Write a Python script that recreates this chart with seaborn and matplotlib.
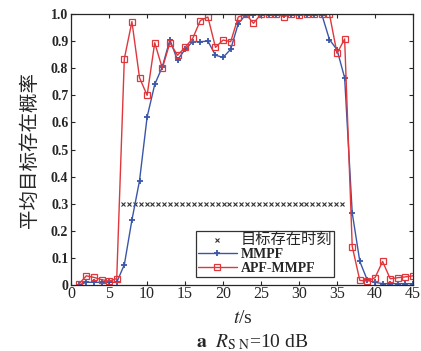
import numpy as np
import pandas as pd
import matplotlib
matplotlib.use("Agg")
import matplotlib.pyplot as plt
import seaborn as sns

# data
t = list(range(1, 46))
mmpf = [0.0, 0.01, 0.01, 0.01, 0.01, 0.01, 0.075, 0.24, 0.385, 0.62,
        0.74, 0.805, 0.905, 0.83, 0.87, 0.898, 0.898, 0.90, 0.848, 0.84,
        0.87, 0.965, 0.998, 0.998, 0.998, 0.998, 0.998, 0.998, 0.998, 0.998,
        0.998, 0.998, 0.998, 0.906, 0.868, 0.765, 0.266, 0.087, 0.017, 0.01,
        0.005, 0.005, 0.005, 0.005, 0.005]
apf = [0.003, 0.034, 0.028, 0.02, 0.014, 0.024, 0.835, 0.972, 0.765, 0.70,
       0.894, 0.80, 0.894, 0.848, 0.877, 0.91, 0.976, 0.989, 0.877, 0.904,
       0.898, 0.989, 1.0, 0.966, 1.0, 1.0, 1.0, 0.99, 1.0, 0.995,
       1.0, 1.0, 1.0, 1.0, 0.855, 0.908, 0.142, 0.017, 0.015, 0.027,
       0.087, 0.023, 0.027, 0.03, 0.034]
exist_t = np.arange(6.8, 36.05, 0.78)
exist_p = [0.3] * len(exist_t)

df = pd.DataFrame({"t": t, "MMPF": mmpf, "APF-MMPF": apf})

sns.set_style("ticks")
plt.rcParams["font.family"] = ["Liberation Serif", "Noto Sans CJK SC"]
plt.rcParams["mathtext.fontset"] = "stix"

fig = plt.figure(figsize=(4.21, 3.51), dpi=100)
ax = fig.add_axes([0.169, 0.188, 0.812, 0.772])

ax.plot(exist_t, exist_p, linestyle="none", marker="x", markersize=2.5,
        markeredgewidth=0.8, color="#333333", label="目标存在时刻")
sns.lineplot(data=df, x="t", y="MMPF", ax=ax, color="#3a56a8", linewidth=1.0,
             marker="+", markersize=4.5, markeredgewidth=1.3,
             markeredgecolor="#3a56a8", label="MMPF")
sns.lineplot(data=df, x="t", y="APF-MMPF", ax=ax, color="#e0373c", linewidth=1.0,
             marker="s", markersize=5, markerfacecolor="none",
             markeredgecolor="#e0373c", markeredgewidth=0.9, label="APF-MMPF")

ax.set_xlim(0, 45)
ax.set_ylim(0, 1.0)
ax.set_xticks(range(0, 46, 5))
ax.set_yticks([i / 10 for i in range(11)])
ax.set_yticklabels(["0"] + [f"{i / 10:.1f}" for i in range(1, 11)],
                   fontsize=10, fontweight="bold")
ax.tick_params(axis="x", labelsize=11.5, pad=1)
ax.tick_params(axis="y", pad=2)
ax.tick_params(direction="in", top=True, right=True, length=3, width=0.8)
for s in ax.spines.values():
    s.set_linewidth(0.9)
    s.set_visible(True)

ax.set_xlabel("")
ax.set_ylabel("平均目标存在概率", fontsize=14, family=["Noto Sans CJK SC"])
ax.yaxis.set_label_coords(-0.09, 0.5)

fig.text(0.578, 0.094, r"$t$/s", ha="center", va="center", fontsize=14)
fig.text(0.60, 0.026, r"$\mathbf{a}$  $R_{\mathrm{S\ N}}$=10 dB",
         ha="center", va="center", fontsize=14)

leg = ax.legend(loc="lower right", bbox_to_anchor=(0.77, 0.03), fontsize=10,
                frameon=True, fancybox=False, edgecolor="black",
                handlelength=2.8, handletextpad=0.3, borderpad=0.15,
                labelspacing=0.05, borderaxespad=0)
leg.get_frame().set_linewidth(0.9)
for txt in leg.get_texts()[1:]:
    txt.set_fontweight("bold")
leg.get_texts()[0].set_fontsize(11)

fig.savefig("out.png", dpi=100)
